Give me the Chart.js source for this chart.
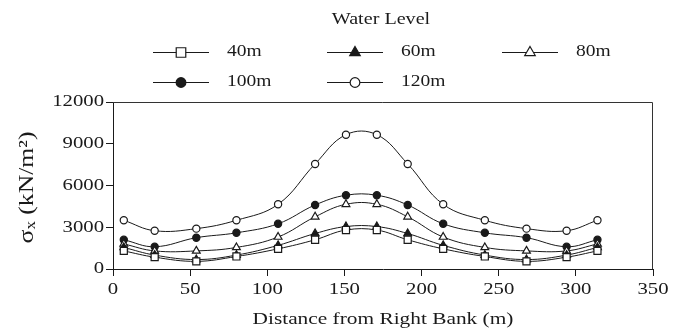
<!DOCTYPE html>
<html><head><meta charset="utf-8">
<script src="https://cdn.jsdelivr.net/npm/chart.js@4.4.0/dist/chart.umd.min.js"></script>
<style>html,body{margin:0;padding:0;background:#fff;}canvas{display:block;}</style>
</head><body>
<canvas id="c" width="673" height="334"></canvas>
<script>
// ---- data ----
const distances = [7, 27, 54, 80, 107, 131, 151, 171, 191, 214, 241, 268, 294, 314];
const level40  = [1300, 850, 550, 900, 1450, 2100, 2800, 2800, 2100, 1450, 900, 550, 850, 1300];
const level60  = [1550, 1000, 680, 1000, 1700, 2550, 3050, 3050, 2550, 1700, 1000, 680, 1000, 1550];
const level80  = [1800, 1300, 1300, 1550, 2300, 3750, 4650, 4650, 3750, 2300, 1550, 1300, 1300, 1800];
const level100 = [2100, 1600, 2250, 2600, 3250, 4600, 5300, 5300, 4600, 3250, 2600, 2250, 1600, 2100];
const level120 = [3500, 2750, 2900, 3500, 4650, 7550, 9650, 9650, 7550, 4650, 3500, 2900, 2750, 3500];
const seriesLabels = ['40m', '60m', '80m', '100m', '120m'];
const xTickValues = [0, 50, 100, 150, 200, 250, 300, 350];
const yTickValues = [0, 3000, 6000, 9000, 12000];
const legendTitle = 'Water Level';
const xTitle = 'Distance from Right Bank (m)';
const yTitleMain = 'σ', yTitleSub = 'x', yTitleRest = ' (kN/m²)';

// ---- styles ----
const INK = '#1a1a1a';
const SX = 1.22; // horizontal stretch of the reference typeface
const FONT = '"Liberation Serif","Times New Roman",serif';
const markers = [
  {style: 'rect', fill: '#fff', r: 5},
  {style: 'triangle', fill: INK, r: 4.5},
  {style: 'triangle', fill: '#fff', r: 4.5},
  {style: 'circle', fill: INK, r: 3.6},
  {style: 'circle', fill: '#fff', r: 3.6}
];
const allSeries = [level40, level60, level80, level100, level120];

function sText(ctx, txt, x, y, size, align) {
  ctx.save();
  ctx.font = size + 'px ' + FONT;
  ctx.textBaseline = 'middle';
  ctx.textAlign = align;
  ctx.fillStyle = INK;
  ctx.translate(x, y);
  ctx.scale(SX, 1);
  ctx.fillText(txt, 0, 0);
  ctx.restore();
}
function drawMarker(ctx, style, fill, r, x, y) {
  ctx.save();
  ctx.beginPath();
  if (style === 'circle') {
    ctx.arc(x, y, r, 0, Math.PI * 2);
  } else if (style === 'rect') {
    const s = r * Math.SQRT1_2;
    ctx.rect(x - s, y - s, 2 * s, 2 * s);
  } else {
    const h = r * 1.5, w = r * Math.sqrt(3);
    ctx.moveTo(x, y - r);
    ctx.lineTo(x + w / 2, y + h - r);
    ctx.lineTo(x - w / 2, y + h - r);
    ctx.closePath();
  }
  ctx.fillStyle = fill;
  ctx.fill();
  ctx.lineWidth = 1.2;
  ctx.strokeStyle = INK;
  ctx.stroke();
  ctx.restore();
}

const decor = {
  id: 'decor',
  afterDraw(chart) {
    const ctx = chart.ctx, a = chart.chartArea;
    const xs = chart.scales.x, ys = chart.scales.y;
    // frame
    ctx.save();
    ctx.strokeStyle = '#333';
    ctx.lineWidth = 1;
    ctx.beginPath();
    ctx.moveTo(a.left, a.top + 0.5);
    ctx.lineTo(a.right - 0.5, a.top + 0.5);
    ctx.lineTo(a.right - 0.5, a.bottom);
    ctx.stroke();
    ctx.restore();
    // tick labels
    xs.ticks.forEach(t => sText(ctx, String(t.value), xs.getPixelForValue(t.value), 290, 17, 'center'));
    ys.ticks.forEach(t => sText(ctx, String(t.value), 104, ys.getPixelForValue(t.value), 17, 'right'));
    // axis titles
    sText(ctx, xTitle, (a.left + a.right) / 2, 319, 17.5, 'center');
    ctx.save();
    ctx.translate(27, (a.top + a.bottom) / 2 + 2);
    ctx.rotate(-Math.PI / 2);
    ctx.scale(SX, 1);
    ctx.fillStyle = INK;
    ctx.textBaseline = 'middle';
    ctx.textAlign = 'left';
    ctx.font = '21px ' + FONT;
    const w1 = ctx.measureText(yTitleMain).width;
    const w3 = ctx.measureText(yTitleRest).width;
    ctx.font = '14px ' + FONT;
    const w2 = ctx.measureText(yTitleSub).width;
    let x0 = -(w1 + w2 + w3) / 2;
    ctx.font = '21px ' + FONT;
    ctx.fillText(yTitleMain, x0, 0);
    ctx.font = '14px ' + FONT;
    ctx.fillText(yTitleSub, x0 + w1, 4);
    ctx.font = '21px ' + FONT;
    ctx.fillText(yTitleRest, x0 + w1 + w2, 0);
    ctx.restore();
    // legend
    sText(ctx, legendTitle, 381, 20, 16.5, 'center');
    const colX = [153, 327, 502], rowY = [52, 82];
    chart.data.datasets.forEach((ds, i) => {
      const cx = colX[i % 3], cy = rowY[Math.floor(i / 3)];
      ctx.save();
      ctx.strokeStyle = INK; ctx.lineWidth = 1;
      ctx.beginPath(); ctx.moveTo(cx, cy + 0.5); ctx.lineTo(cx + 56, cy + 0.5); ctx.stroke();
      ctx.restore();
      const m = markers[i];
      drawMarker(ctx, m.style, m.fill, m.r * 1.35, cx + 28, cy + 0.5);
      sText(ctx, ds.label, cx + 74, cy, 16, 'left');
    });
  }
};

const datasets = allSeries.map((vals, i) => ({
  label: seriesLabels[i],
  data: distances.map((d, k) => ({x: d, y: vals[k]})),
  showLine: true,
  tension: 0.4,
  borderColor: INK,
  borderWidth: 1,
  pointStyle: markers[i].style,
  pointRadius: markers[i].r,
  pointBackgroundColor: markers[i].fill,
  pointBorderColor: INK,
  pointBorderWidth: 1.2
}));

new Chart(document.getElementById('c'), {
  type: 'scatter',
  data: {datasets},
  options: {
    responsive: false,
    animation: false,
    devicePixelRatio: 1,
    layout: {padding: {top: 102, right: 20, left: 0, bottom: 0}},
    plugins: {legend: {display: false}, tooltip: {enabled: false}},
    scales: {
      x: {
        type: 'linear', min: 0, max: 350,
        afterBuildTicks: s => { s.ticks = xTickValues.map(v => ({value: v})); },
        ticks: {display: false},
        grid: {drawOnChartArea: false, drawTicks: true, tickLength: 7, color: INK},
        border: {color: INK, width: 1},
        afterFit: s => { s.height = 65; }
      },
      y: {
        type: 'linear', min: 0, max: 12000,
        afterBuildTicks: s => { s.ticks = yTickValues.map(v => ({value: v})); },
        ticks: {display: false},
        grid: {drawOnChartArea: false, drawTicks: true, tickLength: 7, color: INK},
        border: {color: INK, width: 1},
        afterFit: s => { s.width = 113; }
      }
    }
  },
  plugins: [decor]
});
</script>
</body></html>
